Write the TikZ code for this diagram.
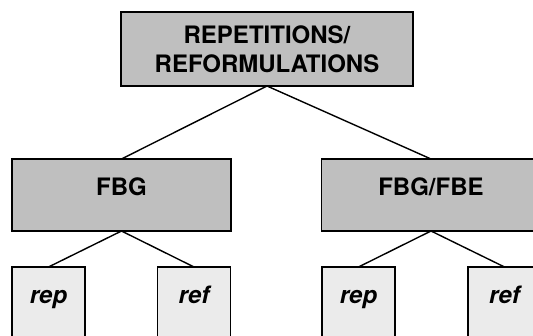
\documentclass[tikz,border=0pt]{standalone}
\usepackage{fontspec}
\setmainfont{TeX Gyre Heros}
\begin{document}
\begin{tikzpicture}[x=1pt,y=-1pt,
  box/.style={draw=black, line width=1.8pt, inner sep=0pt, outer sep=0pt,
    font=\fontsize{24}{29}\selectfont\bfseries},
  level0/.style={box, fill=boxgray, minimum width=292, minimum height=74, align=center},
  level1/.style={box, fill=boxgray, minimum width=219, minimum height=72,
    text height=17.3pt, text depth=16pt},
  level2/.style={box, fill=boxlight, minimum width=73, minimum height=72,
    text height=17.3pt, text depth=16pt, font=\fontsize{24}{29}\selectfont\bfseries\itshape},
  link/.style={line width=1.4pt, draw=black}]
\definecolor{boxgray}{HTML}{BFBFBF}
\definecolor{boxlight}{HTML}{EBEBEB}
\path[use as bounding box, clip] (0,0) rectangle (533,336);

% tree connectors
\coordinate (topbot) at (267,86);
\coordinate (lbot) at (121.5,231);
\coordinate (rbot) at (431,231);
\draw[link] (topbot) -- (121.5,159) coordinate (ltop);
\draw[link] (topbot) -- (431,159) coordinate (rtop);
\draw[link] (lbot) -- (48.5,267) coordinate (a1);
\draw[link] (lbot) -- (194,267) coordinate (a2);
\draw[link] (rbot) -- (358.5,267) coordinate (b1);
\draw[link] (rbot) -- (504.5,267) coordinate (b2);

% boxes
\node[level0] (root) at (267,49) {REPETITIONS/\\REFORMULATIONS};
\node[level1] (fbg) at (121.5,195) {FBG};
\node[level1] (fbe) at (431,195) {FBG/FBE};
\node[level2] (rep1) at (48.5,303) {rep};
\node[level2] (ref1) at (194,303) {ref};
\node[level2] (rep2) at (358.5,303) {rep};
\node[level2] (ref2) at (504.5,303) {ref};
\end{tikzpicture}
\end{document}
